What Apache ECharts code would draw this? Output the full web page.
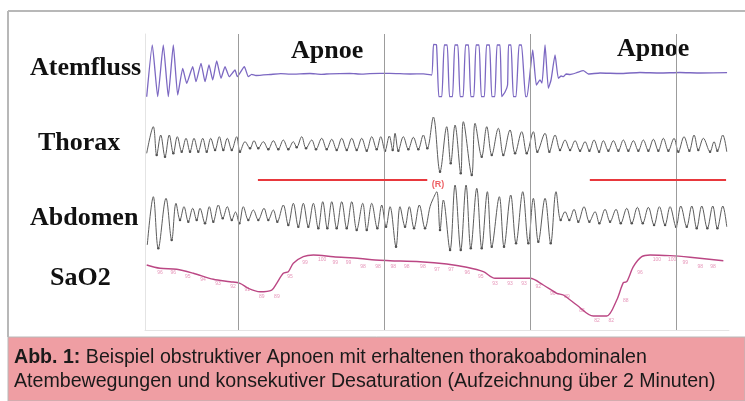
<!DOCTYPE html>
<html>
<head>
<meta charset="utf-8">
<script src="https://cdn.jsdelivr.net/npm/echarts@6/dist/echarts.min.js"></script>
<style>
  html, body { margin: 0; padding: 0; background: #fff; }
  #chart { width: 745px; height: 401px; }
</style>
</head>
<body>
<div id="chart"></div>
<script>
// Zeit in Sekunden (Aufzeichnung über 2 Minuten), Amplituden in willkürlichen Einheiten
var epochMarks = [19.1, 49.1, 79.1, 109.1];
var apneaEvents = [[23.2, 58.0], [91.4, 119.4]];
var arousalMark = [[60.2, -0.45]];

var atemfluss = [
  [0.35,-23.7],[1.5,28],[2.61,-23.7],[3.76,28],[4.79,-23.7],[5.82,28],[6.72,-22],[7.75,4.7],
  [8.57,-10.3],[9.8,6.3],[10.48,-8.7],[11.51,9.7],[12.33,-8.7],[13.15,8],[13.91,-7],[14.73,12],
  [15.62,-5.3],[16.44,6.3],[17.32,-3.7],[18.5,3],[18.97,-3.7],[20.41,6.3],[21.23,-3.7],[21.93,-1.3],
  [22.8,-2.5],[25.7,-1.5],[27.9,-0.6],[29.8,-1.2],[33.9,-0.5],[36.2,-1.3],[38.0,-0.8],[42.1,-0.4],
  [44.5,-1.1],[46.2,-0.6],[50.3,-0.3],[54.5,-1],[57.2,-0.8],[58.9,-2],
  [59.29,28.5],[59.9,28],[60.38,-23.7],[60.99,-23.7],
  [61.49,28],[62.1,28],[62.57,-23.7],[63.19,-23.7],
  [63.66,28],[64.28,28],[64.75,-23.7],[65.37,-23.7],
  [65.86,28],[66.48,28],[66.95,-23.7],[67.57,-23.7],
  [68.02,28],[68.64,28],[69.11,-23.7],[69.73,-23.7],
  [70.18,28],[70.8,28],[71.27,-23.7],[71.88,-23.7],
  [72.34,28],[72.95,28],[73.3,-23.7],[73.98,-19],[74.5,-12],[74.7,28],[75.21,28],
  [75.69,-23.7],[76.24,-23.7],[76.86,28],[77.37,28],[78.19,-23.7],[78.5,-23.7],
  [79.67,23],[80.42,-12],[81.17,-7],[81.58,-10],[82.2,28],[82.88,-15.3],[83.43,-7],[84.26,18],
  [84.93,-5.3],[85.49,-3],[85.96,-3.7],[86.52,-1],[87.34,-1.5],[88.72,0.3],[90.07,2.3],[91.1,-1],
  [93.5,0],[97.6,-0.5],[101.7,0.5],[105.8,0],[109.9,0.5],[114.1,0],[119.6,0.3]
];

var thorax = [
  [0.35,-6.3],[1.71,20.3],[2.4,-8],[3.23,12],[4.11,-9.7],[4.99,12],[5.82,-6.3],[6.64,10.3],
  [7.54,-4.7],[8.43,8.7],[9.25,-4.7],[10.07,8.7],[10.95,-4.7],[11.86,8.7],[12.68,-4.7],[13.5,8.7],
  [14.39,-3],[15.27,10.3],[16.09,-3],[16.91,8.7],[17.82,-3],[18.84,10.3],[19.52,-4.7],[20.55,5.3],
  [21.58,-1.3],[22.4,6.3],[23.28,-1.3],[24.31,5.3],[25.34,-2.3],[26.37,6.3],[27.39,-2.3],[28.42,7],
  [29.45,-2.3],[30.48,5.3],[31.17,-0.3],[32.2,10.3],[33.09,-1.3],[34.26,7],[35.14,-2.3],[36.31,8.7],
  [37.34,-2.3],[38.37,7.7],[39.39,-3],[40.42,8.7],[41.45,-3],[42.48,8.7],[43.5,-3],[44.53,8.7],
  [45.56,-3.7],[46.59,10.3],[47.61,-2.3],[48.44,10.3],[49.32,-3.7],[50.2,11],[50.9,-3],[51.38,13.7],
  [52.06,-3.7],[53.08,10.3],[54.11,-2.3],[55.14,9.7],[56.16,-2.3],[57.19,12],[58.01,-1.3],[59.25,30],
  [60.62,-24.7],[62.0,20.3],[62.82,-16.3],[63.71,22],[64.88,-26.3],[65.41,25.3],[67.14,-28],[67.82,23.7],
  [69.19,-9.7],[70.22,20.3],[71.25,-8],[72.6,18.7],[73.63,-8],[75.01,17],[76.04,-6.3],[77.41,15.3],
  [78.44,-6.3],[79.8,15.3],[80.62,-4.7],[82.2,13.7],[83.09,-4.7],[84.26,12],[85.28,-3],[86.31,7],
  [87.34,-3],[88.37,6.3],[89.39,-3.7],[90.42,5.3],[91.31,-3.7],[92.27,7],[93.3,-4.7],[94.18,6.3],
  [95.21,-3.7],[96.24,6.3],[97.27,-3.7],[98.29,7],[99.32,-3.7],[100.35,6.3],[101.37,-3.7],[102.4,7],
  [103.43,-3.7],[104.46,7.7],[105.48,-3.7],[106.51,8.7],[107.54,-3.7],[108.71,8.7],[109.59,-4.7],[110.76,10.3],
  [111.86,-3.7],[112.82,12],[113.7,-3],[114.73,8.7],[116.11,-4.7],[116.93,5.3],[117.61,-3.7],[118.72,12],
  [119.54,-4.7]
];

var abdomen = [
  [0.47,-23],[1.71,25.3],[2.73,-26.3],[4.32,23.7],[5.49,-18],[6.37,18.7],[7.19,2],[8.01,15.3],
  [8.9,0.3],[9.8,13.7],[10.62,2],[11.3,13.7],[12.33,-1.3],[13.21,15.3],[14.04,0.3],[15.06,17],
  [15.97,3.7],[16.91,15.3],[17.82,2],[18.6,10],[19.38,-1.3],[20.2,15.3],[21.23,2],[22.26,12],
  [23.28,2],[24.45,13.7],[25.34,2],[26.37,12],[27.19,0.3],[28.42,17],[29.45,-3],[30.48,18.7],
  [31.5,-4.7],[32.53,18.7],[33.56,-4.7],[34.59,18.7],[35.61,-6.3],[36.52,20.3],[37.46,-6.3],[38.37,20.3],
  [39.39,-6.3],[40.42,20.3],[41.45,-6.3],[42.48,20.3],[43.5,-8],[44.74,18.7],[45.56,-8],[46.59,18.7],
  [47.74,-6.3],[48.64,17],[49.53,-4.7],[50.35,15.3],[51.58,-24.7],[52.4,15.3],[53.43,-4.7],[54.31,15.3],
  [55.28,-6.3],[56.37,17],[57.54,-6.3],[58.57,15.3],[59.09,22],[59.95,30.3],[60.62,-8],[61.3,22],
  [62.68,-28],[63.71,37],[64.88,-28],[65.97,37],[66.94,-26.3],[68.17,33.7],[69.19,-26.3],[70.35,30.3],
  [71.25,-24.7],[72.81,25.3],[73.77,-24.7],[75.15,27],[76.24,-21.3],[77.62,30.3],[78.77,-21.3],[79.8,23.7],
  [80.82,-19.7],[82.2,23.7],[83.37,-21.3],[84.46,30.3],[85.42,2],[86.31,10.3],[87.19,2],[88.16,12.7],
  [89.04,0.3],[90.21,15.3],[91.31,0.3],[92.48,10.3],[93.36,-1.3],[94.53,12.7],[95.56,0.3],[96.79,12.7],
  [97.76,-1.3],[98.99,13.7],[100.02,-1.3],[101.17,14.7],[102.28,-1.3],[103.43,14.7],[104.6,-3],[105.69,15.3],
  [106.86,-3],[107.89,15.3],[109.12,-4.7],[110.09,16],[111.32,-4.7],[112.35,16],[113.37,-6.3],[114.4,16],
  [115.55,-6.3],[116.66,16],[117.61,-6.3],[118.72,16],[119.54,-4.7]
];

// SaO2 in %
var sao2 = [
  [0.35,97.05],[3.08,96.08],[6.51,95.78],[9.93,94.6],[14.04,92.83],[17.47,92.12],[19.52,91.65],[21.23,90.17],
  [23.63,89.17],[26.04,89.67],[27.06,91.65],[28.42,94.6],[29.45,95.07],[30.48,97.55],[32.53,99.5],[34.59,100],
  [38.7,99.5],[44.18,98.97],[47.27,98.5],[50.35,98.32],[56.51,98.02],[62.0,97.34],[66.11,96.37],[69.52,95.07],
  [71.93,93.12],[75.01,93.12],[79.12,93.12],[81.85,91.15],[84.61,88.7],[85.96,88.2],[88.72,85.25],[92.13,82],
  [94.88,82],[96.93,86.72],[98.29,91.83],[98.99,92.12],[100.35,96.55],[102.07,99.5],[103.78,100],[107.89,99.8],
  [112.0,99.32],[118.84,98.32]
];
var sao2Labels = [
  [3.1,96],[5.8,96],[8.8,95],[11.9,94],[15.0,93],[18.1,92],[21.0,91],[24.0,89],[27.1,89],[29.8,95],
  [32.9,99],[36.4,100],[39.1,99],[41.8,99],[44.8,98],[47.9,98],[51.0,98],[53.8,98],[57.1,98],[60.0,97],
  [62.9,97],[66.2,96],[69.0,95],[71.9,93],[75.0,93],[77.9,93],[80.8,92],[83.8,90],[86.7,89],[89.8,85],
  [92.9,82],[95.8,82],[98.8,88],[101.7,96],[105.2,100],[108.3,100],[111.0,99],[114.1,98],[116.7,98]
];

var serif = "'Liberation Serif', 'DejaVu Serif', serif";
var sans = "'Liberation Sans', Arial, sans-serif";

// Tiefpunkte der Atemkurven (dort sitzen im Original kleine dunkle Punkte)
function troughs(arr) {
  return arr.filter(function (p, i) {
    return i > 0 && i < arr.length - 1 && p[1] < arr[i - 1][1] && p[1] < arr[i + 1][1];
  });
}

function xAx(i) {
  return { gridIndex: i, type: 'value', min: 0, max: 120, show: false };
}
function yAx(i, mn, mx) {
  return { gridIndex: i, type: 'value', min: mn, max: mx, show: false };
}

var chart = echarts.init(document.getElementById('chart'), null, { renderer: 'canvas' });

var option = {
  animation: false,
  backgroundColor: '#ffffff',
  grid: [
    { left: 145, top: 34, width: 584, height: 296 },   // Hintergrund / Epochen
    { left: 145, top: 43, width: 584, height: 55 },    // Atemfluss
    { left: 145, top: 115, width: 584, height: 62 },   // Thorax
    { left: 145, top: 170, width: 584, height: 20 },   // Apnoe-Ereignisse
    { left: 145, top: 182, width: 584, height: 70 },   // Abdomen
    { left: 145, top: 248.2, width: 584, height: 81.4 } // SaO2
  ],
  xAxis: [
    { gridIndex: 0, type: 'value', min: 0, max: 120, position: 'top',
      axisLine: { show: true, lineStyle: { color: '#e4e4e4', width: 1 } },
      axisTick: { show: false }, axisLabel: { show: false }, splitLine: { show: false } },
    xAx(1), xAx(2), xAx(3), xAx(4), xAx(5)
  ],
  yAxis: [
    { gridIndex: 0, type: 'value', min: 0, max: 1,
      axisLine: { show: true, lineStyle: { color: '#e4e4e4', width: 1 } },
      axisTick: { show: false }, axisLabel: { show: false }, splitLine: { show: false } },
    yAx(1, -25, 30), yAx(2, -30, 32), yAx(3, -1, 1), yAx(4, -30, 40), yAx(5, 78, 102)
  ],
  series: [
    {
      name: 'epochen', type: 'line', xAxisIndex: 0, yAxisIndex: 0, data: [],
      markLine: {
        silent: true, symbol: 'none', animation: false,
        label: { show: false },
        lineStyle: { color: '#9c9c9c', width: 1, type: 'solid' },
        data: epochMarks.map(function (v) { return { xAxis: v }; })
      }
    },
    {
      name: 'Atemfluss', type: 'line', xAxisIndex: 1, yAxisIndex: 1, data: atemfluss,
      showSymbol: false, smooth: 0.15,
      lineStyle: { color: '#7c68c2', width: 1.3 }
    },
    {
      name: 'Thorax', type: 'line', xAxisIndex: 2, yAxisIndex: 2, data: thorax,
      showSymbol: false, smooth: 0.35,
      lineStyle: { color: '#5c5c5c', width: 1 }
    },
    {
      name: 'Thorax Punkte', type: 'scatter', xAxisIndex: 2, yAxisIndex: 2, data: troughs(thorax),
      symbolSize: 2.5, itemStyle: { color: '#222' }
    },
    {
      name: 'Apnoe', type: 'scatter', xAxisIndex: 3, yAxisIndex: 3, data: arousalMark,
      symbolSize: 0,
      label: { show: true, position: 'inside', formatter: '(R)', color: '#e8383d',
               fontSize: 9, fontWeight: 'bold', fontFamily: sans },
      markLine: {
        silent: true, symbol: 'none', animation: false,
        label: { show: false },
        lineStyle: { color: '#e8383d', width: 2, type: 'solid' },
        data: apneaEvents.map(function (e) {
          return [{ coord: [e[0], 0] }, { coord: [e[1], 0] }];
        })
      }
    },
    {
      name: 'Abdomen', type: 'line', xAxisIndex: 4, yAxisIndex: 4, data: abdomen,
      showSymbol: false, smooth: 0.35,
      lineStyle: { color: '#5c5c5c', width: 1 }
    },
    {
      name: 'Abdomen Punkte', type: 'scatter', xAxisIndex: 4, yAxisIndex: 4, data: troughs(abdomen),
      symbolSize: 2.5, itemStyle: { color: '#222' }
    },
    {
      name: 'SaO2', type: 'line', xAxisIndex: 5, yAxisIndex: 5, data: sao2,
      showSymbol: false, smooth: 0.3,
      lineStyle: { color: '#bb4784', width: 1.4 }
    },
    {
      name: 'SaO2 Werte', type: 'scatter', xAxisIndex: 5, yAxisIndex: 5, data: sao2Labels,
      symbolSize: 0,
      label: { show: true, position: 'bottom', distance: 2, fontSize: 5, color: '#e07aa8',
               fontFamily: sans,
               formatter: function (p) { return p.value[1]; } }
    }
  ],
  graphic: [
    // Rahmen
    { type: 'line', shape: { x1: 8, y1: 11, x2: 745, y2: 11 }, style: { stroke: '#b8b8b8', lineWidth: 2 } },
    { type: 'line', shape: { x1: 8, y1: 11, x2: 8, y2: 337 }, style: { stroke: '#b8b8b8', lineWidth: 2 } },
    // Bildunterschrift
    { type: 'rect', shape: { x: 8, y: 337, width: 737, height: 64 },
      style: { fill: '#ef9ea3', stroke: '#b8b8b8', lineWidth: 1 } },
    { type: 'text', x: 14, y: 358,
      style: { text: '{b|Abb. 1:} Beispiel obstruktiver Apnoen mit erhaltenen thorakoabdominalen',
               fill: '#1a1a1a', fontSize: 19.6, fontFamily: sans, verticalAlign: 'middle',
               rich: { b: { fontWeight: 'bold', fontSize: 19.6, fontFamily: sans, fill: '#1a1a1a' } } } },
    { type: 'text', x: 14, y: 382,
      style: { text: 'Atembewegungen und konsekutiver Desaturation (Aufzeichnung über 2 Minuten)',
               fill: '#1a1a1a', fontSize: 19.6, fontFamily: sans, verticalAlign: 'middle' } },
    // Kanalbeschriftungen
    { type: 'text', x: 30, y: 68, style: { text: 'Atemfluss', fill: '#111', fontSize: 26, fontWeight: 'bold', fontFamily: serif, verticalAlign: 'middle' } },
    { type: 'text', x: 38, y: 143.5, style: { text: 'Thorax', fill: '#111', fontSize: 26, fontWeight: 'bold', fontFamily: serif, verticalAlign: 'middle' } },
    { type: 'text', x: 30, y: 218.5, style: { text: 'Abdomen', fill: '#111', fontSize: 26, fontWeight: 'bold', fontFamily: serif, verticalAlign: 'middle' } },
    { type: 'text', x: 50, y: 278.5, style: { text: 'SaO2', fill: '#111', fontSize: 26, fontWeight: 'bold', fontFamily: serif, verticalAlign: 'middle' } },
    { type: 'text', x: 291, y: 51.5, style: { text: 'Apnoe', fill: '#111', fontSize: 26, fontWeight: 'bold', fontFamily: serif, verticalAlign: 'middle' } },
    { type: 'text', x: 617, y: 49.5, style: { text: 'Apnoe', fill: '#111', fontSize: 26, fontWeight: 'bold', fontFamily: serif, verticalAlign: 'middle' } }
  ]
};

chart.setOption(option);
</script>
</body>
</html>
